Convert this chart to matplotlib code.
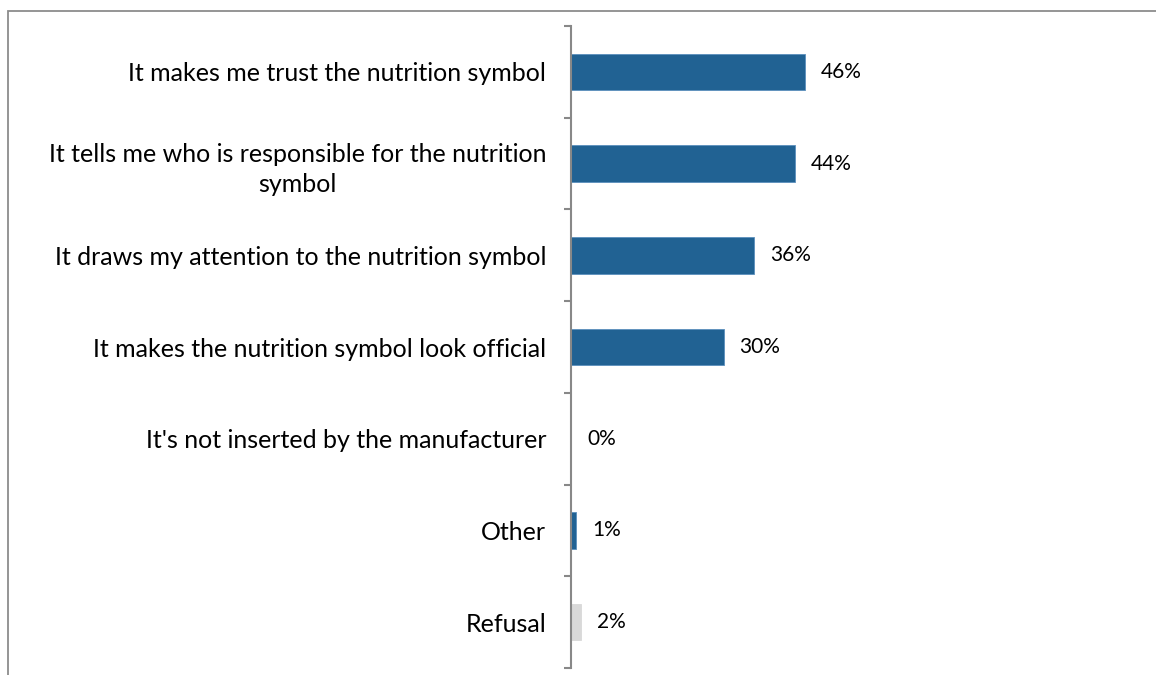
import matplotlib.pyplot as plt
from matplotlib.patches import Rectangle

plt.rcParams['font.family'] = ['Lato', 'DejaVu Sans']

categories = [
    'It makes me trust the nutrition symbol',
    'It tells me who is responsible for the nutrition\nsymbol',
    'It draws my attention to the nutrition symbol',
    'It makes the nutrition symbol look official',
    "It's not inserted by the manufacturer",
    'Other',
    'Refusal',
]
values = [46, 44, 36, 30, 0, 1, 2]
colors = ['#216293'] * 6 + ['#d9d9d9']
edges = ['#5b8fbd'] * 6 + ['#d9d9d9']

fig = plt.figure(figsize=(11.56, 6.75), dpi=100)
ax = fig.add_axes([0.494, 0.0104, 0.44, 0.951])

pos = list(range(len(categories)))
ax.barh(pos, values, height=0.4, color=colors, edgecolor=edges, linewidth=0.6)
ax.bar_label(ax.containers[0], labels=[f'{v}%' for v in values], padding=11.5, fontsize=15)

ax.set_ylim(len(categories) - 0.5, -0.5)
ax.set_xlim(0, 100)

# category names sit between the boundary ticks
ax.set_yticks([p - 0.5 for p in pos] + [len(pos) - 0.5])
ax.set_yticklabels([])
ax.set_yticks(pos, minor=True)
ax.set_yticklabels(categories, minor=True, fontsize=18)
for lab in ax.get_yticklabels(minor=True):
    lab.set_multialignment('center')
    lab.set_linespacing(1.4)
ax.tick_params(axis='y', which='major', direction='out', length=5, width=1.5, color='#888888')
ax.tick_params(axis='y', which='minor', length=0, pad=18)

ax.set_xticks([])
for s in ['top', 'right', 'bottom']:
    ax.spines[s].set_visible(False)
ax.spines['left'].set_color('#888888')
ax.spines['left'].set_linewidth(1.5)

# outer frame
fig.patches.append(Rectangle((8 / 1156, -0.1), 1.2, (675 - 11) / 675 + 0.1,
                             transform=fig.transFigure, fill=False,
                             edgecolor='#8c8c8c', linewidth=1.3))

fig.savefig('out.png', dpi=100)
